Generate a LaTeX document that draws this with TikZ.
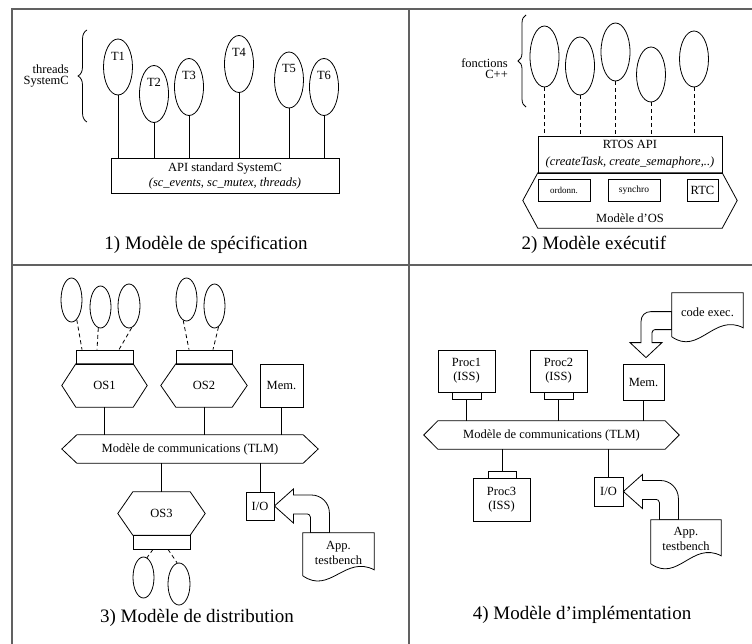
\documentclass[tikz,border=0pt]{standalone}
\usepackage{fontspec}
\setmainfont{Liberation Serif}
\usetikzlibrary{shapes.geometric,calc,decorations.pathreplacing}

\newcommand\hexdraw[2]{\draw[ln] (#1.north west) -- (#1.north east) -- ($(#1.east)+(#2,0)$) -- (#1.south east) -- (#1.south west) -- ($(#1.west)+(-#2,0)$) -- cycle;}
\newcommand\docdraw[3]{\draw[ln,fill=white] (#1.north west) -- (#1.north east) -- ($(#1.north east)+(0,#2)$) .. controls +(-29,-15) and +(27,19) .. ($(#1.north west)+(0,#3)$) -- cycle;}
\newcommand\sidearrow[2]{%
  \path (#1) ++(55,0) coordinate (tmpo) ++(-19,0) coordinate (tmpi);
  \draw[ln,fill=white] (#1) -- ++(19,-17) -- ++(0,6) -- ++(18,0) .. controls +(10,0) and +(0,-10) .. ++(18,18) -- (tmpo |- #2.north) -- (tmpi |- #2.north) -- ($(#1)+(36,11)$) .. controls +(0,-2) and +(1,0) .. ($(#1)+(33,8)$) -- ($(#1)+(19,8)$) -- ($(#1)+(19,17)$) -- cycle;}

\begin{document}
\begin{tikzpicture}[x=1pt,y=-1pt,
  every node/.style={font=\fontsize{12.5}{14}\selectfont,inner sep=0pt},
  ln/.style={line width=0.8pt,black},
  frm/.style={line width=1.2pt,black!62},
  bx/.style 2 args={draw,line width=0.8pt,rectangle,minimum width=#1,minimum height=#2},
  hx/.style 2 args={rectangle,minimum width=#1,minimum height=#2},
  el/.style 2 args={draw,line width=0.8pt,ellipse,minimum width=#1,minimum height=#2},
  dsh/.style={ln,dash pattern=on 4pt off 3pt},
  captxt/.style={font=\fontsize{19}{22}\selectfont},
  tl/.style={label={[anchor=north,yshift=-13pt]north:#1}}]
\useasboundingbox (0,0) rectangle (752,644);
\fill[white] (0,0) rectangle (752,644);

% frame
\draw[frm] (12,644) -- (12,9) -- (752,9);
\draw[frm] (409,9) -- (409,644);
\draw[frm] (12,265) -- (752,265);

% ---------- 1) specification
\node[anchor=east,align=right,font=\fontsize{12.5}{11.5}\selectfont] (thr) at (69,76) {threads\\SystemC};
\draw[ln,decorate,decoration={brace,amplitude=9pt}] (87,122) -- (87,30);
\node[el={29}{56},tl=T1] (t1) at (118,67) {};
\node[el={29}{57},tl=T2] (t2) at (154,94) {};
\node[el={29}{57},tl=T3] (t3) at (189,87) {};
\node[el={29}{57},tl=T4] (t4) at (239,64) {};
\node[el={29}{56},tl=T5] (t5) at (289,80) {};
\node[el={29}{57},tl=T6] (t6) at (324,87) {};
\node[bx={228}{35},align=center,font=\fontsize{12.5}{15}\selectfont] (api) at (225,175.5) {API standard SystemC\\\textit{(sc\_events, sc\_mutex, threads)}};
\foreach \t in {t1,t2,t3,t4,t5,t6} \draw[ln] (\t.south) -- (\t.south |- api.north);
\node[captxt] (cap1) at (206,245) {1) Modèle de spécification};

% ---------- 2) executif
\node[anchor=east,align=right,font=\fontsize{12.5}{11}\selectfont] (fct) at (508,69) {fonctions\\C++};
\draw[ln,decorate,decoration={brace,amplitude=8pt}] (526,107) -- (526,15);
\node[el={29}{61}] (f1) at (544.5,56.5) {};
\node[el={29}{58}] (f2) at (580,66) {};
\node[el={29}{58}] (f3) at (615.5,52) {};
\node[el={29}{55}] (f4) at (651,74.5) {};
\node[el={29}{56}] (f5) at (694,59) {};
\node[bx={184}{37},align=center,font=\fontsize{12.5}{17}\selectfont] (rtos) at (630,154.5) {RTOS API\\\textit{(createTask, create\_semaphore,..)}};
\foreach \f in {f1,f2,f3,f4,f5} \draw[dsh] (\f.south) -- (\f.south |- rtos.north);
\node[hx={184}{55}] (osm) at (630,200.5) {};
\hexdraw{osm}{15}
\node[bx={52}{22},font=\fontsize{9}{10}\selectfont] (ord) at (564,190) {ordonn.};
\node[bx={52}{22},font=\fontsize{9.5}{10}\selectfont] (syn) at (634,190) {synchro};
\node[bx={31}{22}] (rtc) at (702.5,190) {RTC};
\node (osml) at (630,218) {Modèle d’OS};
\node[captxt] (cap2) at (594,245) {2) Modèle exécutif};

% ---------- 3) distribution
\node[el={21}{44}] (d1) at (71.5,300) {};
\node[el={21}{42}] (d2) at (100.5,307) {};
\node[el={22}{44}] (d3) at (129,306) {};
\node[el={21}{43}] (d4) at (186.5,299.5) {};
\node[el={21}{44}] (d5) at (214.5,306) {};
\node[bx={57}{14}] (b1) at (104.5,357) {};
\node[hx={57}{43}] (os1) at (104.5,385.5) {OS1};
\hexdraw{os1}{14}
\node[bx={56}{14}] (b2) at (204,357) {};
\node[hx={56}{43}] (os2) at (204,385.5) {OS2};
\hexdraw{os2}{15}
\draw[dsh] (d1.285) -- ($(b1.north)+(-22.5,0)$);
\draw[dsh] (d2.264) -- ($(b1.north)+(-7.5,0)$);
\draw[dsh] (d3.277) -- ($(b1.north)+(14.5,0)$);
\draw[dsh] (d4.261) -- ($(b2.north)+(-15,0)$);
\draw[dsh] (d5.281) -- ($(b2.north)+(9,0)$);
\node[bx={43}{43}] (mem3) at (281.5,385.5) {Mem.};
\node[hx={226}{28}] (bus3) at (190,449) {Modèle de communications (TLM)};
\hexdraw{bus3}{15}
\draw[ln] (os1.south) -- (os1.south |- bus3.north);
\draw[ln] (os2.south) -- (os2.south |- bus3.north);
\draw[ln] (mem3.south) -- (mem3.south |- bus3.north);
\node[hx={57}{43}] (os3) at (161.5,513.5) {OS3};
\hexdraw{os3}{15}
\node[bx={57}{14}] (b3) at (161.5,542) {};
\draw[ln] (os3.north |- bus3.south) -- (os3.north);
\node[bx={28}{28}] (io3) at (260,506) {I/O};
\draw[ln] (io3.north |- bus3.south) -- (io3.north);
\node[el={21}{41}] (d6) at (143.5,577.5) {};
\node[el={22}{42}] (d7) at (179,584) {};
\draw[dsh] ($(b3.south)+(-8.5,0)$) -- (d6.80);
\draw[dsh] ($(b3.south)+(6.5,0)$) -- (d7.95);
\node[hx={71}{40}] (app3) at (338.5,553) {};
\sidearrow{io3.east}{app3}
\docdraw{app3}{37}{43}
\node[align=center,font=\fontsize{12.5}{15}\selectfont] (app3t) at (app3) {App.\\testbench};
\node[captxt] (cap3) at (197,618) {3) Modèle de distribution};

% ---------- 4) implementation
\node[bx={57}{42},align=center,font=\fontsize{12.5}{14}\selectfont] (p1) at (466.5,371) {Proc1\\(ISS)};
\node[bx={29}{7}] (pb1) at (466.5,395.5) {};
\node[bx={57}{42},align=center,font=\fontsize{12.5}{14}\selectfont] (p2) at (558.5,371) {Proc2\\(ISS)};
\node[bx={29}{7}] (pb2) at (558.5,395.5) {};
\node[bx={41}{36}] (mem4) at (643.5,382) {Mem.};
\node[hx={227}{28}] (bus4) at (551.5,435) {Modèle de communications (TLM)};
\hexdraw{bus4}{14}
\draw[ln] (pb1.south) -- (pb1.south |- bus4.north);
\draw[ln] (pb2.south) -- (pb2.south |- bus4.north);
\draw[ln] (mem4.south) -- (mem4.south |- bus4.north);
\node[bx={28}{7}] (pb3) at (502,474.5) {};
\node[bx={57}{43},align=center,font=\fontsize{12.5}{14}\selectfont] (p3) at (501.5,499.5) {Proc3\\(ISS)};
\draw[ln] (pb3.north |- bus4.south) -- (pb3.north);
\node[bx={29}{29}] (io4) at (608.5,491.5) {I/O};
\draw[ln] (io4.north |- bus4.south) -- (io4.north);
\node[hx={70}{40}] (app4) at (686,540) {};
\sidearrow{io4.east}{app4}
\docdraw{app4}{36}{44}
\node[align=center,font=\fontsize{12.5}{14.5}\selectfont] (app4t) at (686,539) {App.\\testbench};
\node[hx={71}{40}] (cx) at (707.5,313) {};
\coordinate (ct) at ($(mem4.north)+(2.5,-6)$);
\path (ct) ++(0,-28) coordinate (cl) ++(0,-18) coordinate (cu);
\draw[ln,fill=white] (ct) -- ++(16,-15) -- ++(-10,0) -- ++(0,-10) .. controls +(0,-2) and +(-1,0) .. ++(3,-3) -- (cl -| cx.west) -- (cu -| cx.west) -- ($(ct)+(5,-46)$) .. controls +(-6,0) and +(0,-6) .. ($(ct)+(-5,-36)$) -- ($(ct)+(-5,-15)$) -- ($(ct)+(-16,-15)$) -- cycle;
\docdraw{cx}{35}{44}
\node (cxt) at (707.5,312) {code exec.};
\node[captxt] (cap4) at (582,615) {4) Modèle d’implémentation};
\end{tikzpicture}
\end{document}
